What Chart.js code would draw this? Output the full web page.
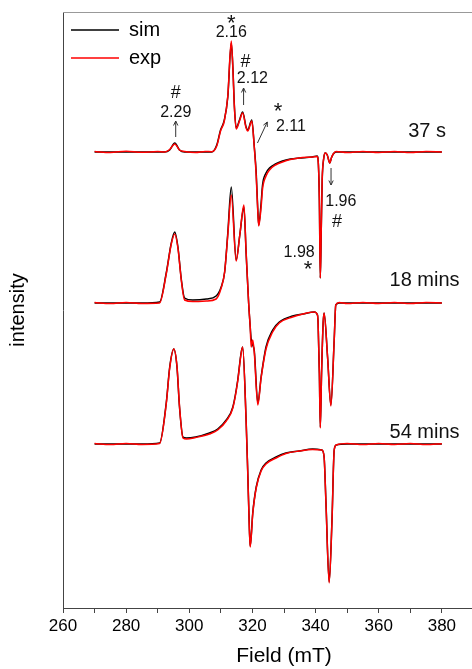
<!DOCTYPE html>
<html><head><meta charset="utf-8">
<script src="https://cdn.jsdelivr.net/npm/chart.js@4.4.0/dist/chart.umd.min.js"></script>
<style>
html,body{margin:0;padding:0;background:#fff;overflow:hidden;}
#wrap{width:508px;height:669px;position:relative;}
</style></head><body>
<div id="wrap"><canvas id="c"></canvas></div>
<script>
// ---- data (field in mT, intensity in arbitrary units relative to each baseline) ----
const spectrumNames = ['37 s', '18 mins', '54 mins'];
const offsets = [456, 305, 164];

const field37 = [270,275,280,285,290,292.2,293.8,295.4,296.9,298.5,302,305,307.1,308.7,309.9,311.1,312.2,313.3,313.8,314.3,314.85,315.9,316.9,318.0,318.5,319.8,320.6,321.2,321.7,322.0,322.75,323.2,324.3,325.4,327.3,329.5,332,334.8,338.95,340.5,340.9,341.2,341.5,341.8,342.1,342.6,343.05,343.7,344.5,345.0,345.6,346.5,350,355,360,365,370,375,380];
const sim37 = [0,0,0,0,0,0,2,9,2,0,0,0,0,7,22,32,55,109,85,45,24,32,40,25,22,32,5,-21,-58,-73,-51,-33,-21,-16,-12,-9,-7,-6,-5,-4,-13,-48,-126,-78,-28,-6,-1,-3,-11,-6,-2,0,0,0,0,0,0,0,0];
const exp37 = [0.5,-0.5,0.8,-0.3,0.4,0,2.5,8,2,0.6,-0.5,0.5,0.3,6,21,31,56,111,84,44,23,31,39,24,21,31,4,-24,-60,-74,-55,-37,-24,-18,-13,-10,-7.5,-6,-5,-4.5,-13,-47,-126,-77,-27,-6,-1,-3,-11,-6,-2,0.5,-0.5,0.6,-0.4,0.5,-0.6,0.4,0];

const field18 = [270,275,280,285,290.6,292.7,294.3,295.4,296.4,297.5,298.5,301.1,305.4,308.5,310.1,311.2,312.2,313.3,314.85,316.0,317.3,318.0,318.8,319.3,319.6,320.1,320.6,321.7,322.75,324.3,326.4,328.5,332.7,336,339.6,340.6,340.8,341.2,341.5,341.9,342.4,342.7,343.8,344.85,345.9,346.4,347.5,350,355,360,365,370,375,380];
const sim18 = [0,0,0,0,1,30,60,71,56,23,5,3,4,7,16,31,70,116,43,68,96,50,0,-24,-36,-42,-48,-100,-74,-44,-27,-19,-13,-11,-9,-12,-20,-70,-124,-70,-20,-10,-54,-102,-37,-2,0,0,0,0,0,0,0,0];
const exp18 = [0.5,-0.5,0.6,-0.4,0,29,59,69,55,22,3,1.5,2,4,15,31,68,108,42,68,98,51,0,-24,-44,-37,-50,-102,-75,-46,-29,-20,-14,-11,-9,-12,-20,-70,-125,-70,-20,-10,-54,-103,-37,-2,0.5,-0.5,0.6,-0.4,0.5,-0.6,0.4,0];

const field54 = [270,275,280,285,290.6,292.7,293.8,295.1,296.1,296.9,298.0,299.1,302,306.4,309,311.7,313.8,315.35,316.4,316.9,318.0,318.5,319.05,319.3,320.1,321.2,322.75,324.3,327.5,330.6,334.8,339.05,342.0,342.7,343.3,344.3,345.2,345.9,346.6,350,355,360,365,370,375,380];
const sim54 = [0,0,0,0,1,41,77,95,77,37,7,6,7,11,15,24,37,64,91,97,24,-26,-86,-102,-69,-43,-26,-19,-13,-9,-7,-5,-6,-13,-59,-138,-76,-6,-1,0,0,0,0,0,0,0];
const exp54 = [0.5,-0.5,0.6,-0.4,0.5,40,76,95,78,38,6,5,6.5,10,14,23,36,63,90,97,23,-27,-87,-103,-70,-44,-27,-20,-14,-9.5,-7,-5.5,-6,-13,-60,-139,-77,-6,-1,0.5,-0.5,0.6,-0.4,0.5,-0.6,0.3];

const xTickMin = 260, xTickMax = 380, xTickStep = 10, xLabelStep = 20;

// ---- chart ----
const FONT = '"Liberation Sans", Arial, sans-serif';
const fields = [field37, field18, field54];
const sims = [sim37, sim18, sim54];
const exps = [exp37, exp18, exp54];

function pts(field, vals, off) { return field.map((f, i) => ({x: f, y: off + vals[i]})); }

const datasets = [];
for (let k = 0; k < 3; k++) {
  datasets.push({label: 'sim', data: pts(fields[k], sims[k], offsets[k]), borderColor: '#000000',
    backgroundColor: '#000000', borderWidth: 1.5, pointRadius: 0, cubicInterpolationMode: 'monotone', order: 1});
  datasets.push({label: 'exp', data: pts(fields[k], exps[k], offsets[k]), borderColor: '#ff0000',
    backgroundColor: '#ff0000', borderWidth: 1.5, pointRadius: 0, cubicInterpolationMode: 'monotone', order: 0});
}

// annotations (field, intensity)
const notes = [
  {t: '#', f: 295.7, v: 515, s: 18}, {t: '2.29', f: 295.7, v: 495, s: 16},
  {t: '*', f: 313.3, v: 584, s: 22}, {t: '2.16', f: 313.3, v: 575, s: 16},
  {t: '#', f: 317.8, v: 546, s: 18}, {t: '2.12', f: 320.0, v: 529, s: 16},
  {t: '*', f: 328.1, v: 496, s: 22}, {t: '2.11', f: 332.2, v: 481, s: 16},
  {t: '1.96', f: 348.0, v: 406, s: 16}, {t: '#', f: 346.8, v: 386, s: 18},
  {t: '1.98', f: 334.8, v: 355, s: 16}, {t: '*', f: 337.6, v: 338, s: 22},
];
const arrows = [
  {f0: 295.7, v0: 471, f1: 295.7, v1: 487},
  {f0: 317.2, v0: 503, f1: 317.2, v1: 520},
  {f0: 321.6, v0: 465, f1: 324.7, v1: 486},
  {f0: 344.9, v0: 440, f1: 344.9, v1: 423},
];
const seriesLabels = [
  {t: spectrumNames[0], f: 381.3, v: 477},
  {t: spectrumNames[1], f: 385.6, v: 328},
  {t: spectrumNames[2], f: 385.6, v: 176},
];

const framePlugin = {
  id: 'frame',
  beforeDatasetsDraw(chart) {
    const {ctx, chartArea} = chart;
    ctx.save();
    ctx.strokeStyle = '#999';
    ctx.lineWidth = 1;
    ctx.beginPath();
    ctx.moveTo(chartArea.left, Math.round(chartArea.top) + 0.5);
    ctx.lineTo(chartArea.right, Math.round(chartArea.top) + 0.5);
    ctx.stroke();
    ctx.restore();
  }
};

const notePlugin = {
  id: 'notes',
  afterDatasetsDraw(chart) {
    const {ctx, scales: {x, y}} = chart;
    ctx.save();
    ctx.fillStyle = '#111';
    ctx.textBaseline = 'middle';
    ctx.textAlign = 'center';
    notes.forEach(n => {
      ctx.font = n.s + 'px ' + FONT;
      ctx.fillText(n.t, x.getPixelForValue(n.f), y.getPixelForValue(n.v));
    });
    ctx.textAlign = 'right';
    ctx.font = '20px ' + FONT;
    seriesLabels.forEach(n => ctx.fillText(n.t, x.getPixelForValue(n.f), y.getPixelForValue(n.v)));
    ctx.strokeStyle = '#333';
    ctx.lineWidth = 1;
    arrows.forEach(a => {
      const x0 = x.getPixelForValue(a.f0), y0 = y.getPixelForValue(a.v0);
      const x1 = x.getPixelForValue(a.f1), y1 = y.getPixelForValue(a.v1);
      const ang = Math.atan2(y1 - y0, x1 - x0);
      ctx.beginPath();
      ctx.moveTo(x0, y0); ctx.lineTo(x1, y1);
      ctx.moveTo(x1 - 5 * Math.cos(ang - 0.45), y1 - 5 * Math.sin(ang - 0.45));
      ctx.lineTo(x1, y1);
      ctx.lineTo(x1 - 5 * Math.cos(ang + 0.45), y1 - 5 * Math.sin(ang + 0.45));
      ctx.stroke();
    });
    ctx.restore();
  }
};

new Chart(document.getElementById('c'), {
  type: 'line',
  data: {datasets},
  options: {
    responsive: true, maintainAspectRatio: false, animation: false, devicePixelRatio: 1,
    layout: {padding: {left: 0, right: 2, top: 12, bottom: 0}},
    plugins: {
      tooltip: {enabled: false},
      legend: {
        position: 'chartArea', align: 'start',
        title: {display: true, text: '', font: {size: 10, family: FONT}, padding: 0},
        labels: {
          usePointStyle: true, pointStyle: 'line', pointStyleWidth: 48, padding: 8,
          color: '#000', font: {size: 20, family: FONT},
          filter: (item) => item.datasetIndex < 2,
          sort: (a, b) => a.datasetIndex - b.datasetIndex
        }
      }
    },
    scales: {
      x: {
        type: 'linear', min: 260, max: 400, position: 'bottom',
        ticks: {stepSize: xTickStep, autoSkip: false, maxRotation: 0, padding: 3, color: '#000',
          font: {size: 17, family: FONT},
          callback: (v) => (v % xLabelStep === 0 && v >= xTickMin && v <= xTickMax) ? String(v) : ''},
        grid: {display: true, drawOnChartArea: false, drawTicks: true, tickLength: 5, tickColor: '#444', tickWidth: 1},
        border: {display: true, color: '#444', width: 1},
        title: {display: true, text: 'Field (mT)', color: '#000', font: {size: 21, family: FONT}, padding: {top: 0, bottom: 0}},
        afterFit(s) { s.height = 61; }
      },
      y: {
        type: 'linear', min: 0, max: 596, position: 'left',
        ticks: {display: false}, grid: {display: false, drawTicks: false},
        border: {display: true, color: '#444', width: 1},
        title: {display: true, text: 'intensity', color: '#000', font: {size: 20, family: FONT}, padding: {top: 6, bottom: 0}},
        afterFit(s) { s.width = 63; }
      }
    }
  },
  plugins: [framePlugin, notePlugin]
});
</script>
</body></html>
